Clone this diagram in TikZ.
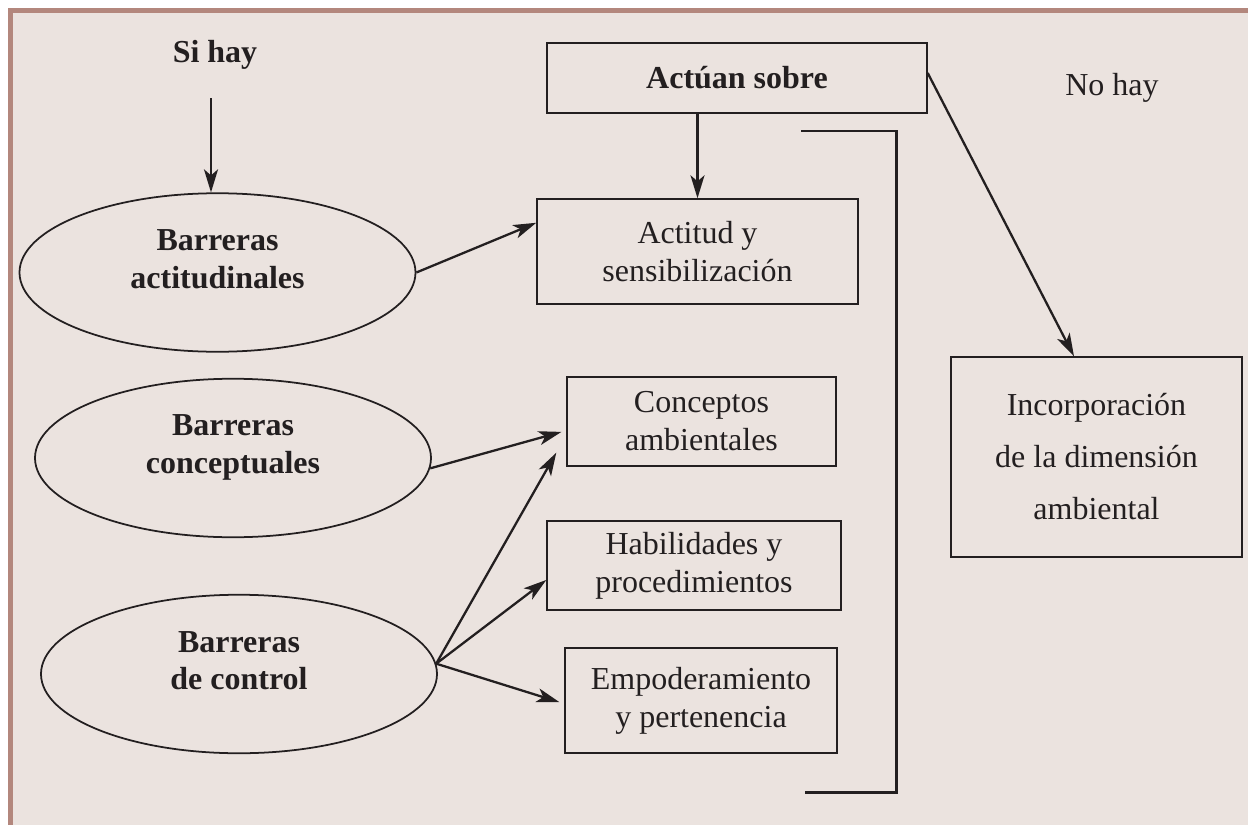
\documentclass[tikz,border=0pt]{standalone}
\usepackage{fontspec}
\setmainfont{Liberation Serif}
\usetikzlibrary{arrows.meta,calc,shapes.geometric}
\definecolor{fondo}{HTML}{EBE3DF}
\definecolor{marco}{HTML}{B3877D}
\definecolor{tinta}{HTML}{231F20}
\tikzset{
	texto/.style={text=tinta, font=\fontsize{18.2}{22}\selectfont},
	caja/.style={draw=tinta, line width=0.8pt, rectangle, inner sep=0pt, align=center, text=tinta, font=\fontsize{18.2}{21.6}\selectfont},
	barrera/.style={draw=tinta, line width=1pt, ellipse, inner sep=0pt, minimum width=7.92cm, minimum height=3.17cm, text depth=0.54cm, align=center, text=tinta, font=\bfseries\fontsize{18.2}{21.6}\selectfont},
	flecha/.style={draw=tinta, line width=1.3pt, -{Stealth[length=0.46cm,width=0.28cm,inset=0.12cm]}},
}

\begin{document}
\begin{tikzpicture}[x=0.2mm,y=-0.2mm]
			%%%%% START %%%%%
			
			\fill[white] (0, 0) rectangle (1248, 825);
			\fill[fondo] (8, 8) rectangle (1248, 825);
			\fill[marco] (8, 8) rectangle (1248, 13);
			\fill[marco] (8, 8) rectangle (13, 825);
			
			\node[texto, font=\bfseries\fontsize{18.2}{22}\selectfont] (sihay) at (215, 55) {Si hay};
			\node[texto] (nohay) at (1112, 88) {No hay};
			
			\node[caja, minimum width=7.6cm, minimum height=1.4cm, font=\bfseries\fontsize{18.2}{22}\selectfont] (actuan) at (737, 78) {Actúan sobre};
			\node[caja, minimum width=5.82cm, minimum height=4cm, font=\fontsize{18.2}{29.6}\selectfont] (incorp) at (1096.5, 457) {Incorporación\\de la dimensión\\ambiental};
			
			\node[caja, minimum width=6.42cm, minimum height=2.1cm] (actitud) at (697.5, 251.5) {Actitud y\\sensibilización};
			\node[caja, minimum width=5.38cm, minimum height=1.78cm] (conceptos) at (701.5, 421.5) {Conceptos\\ambientales};
			\node[caja, minimum width=5.88cm, minimum height=1.78cm] (habilidades) at (694, 565.5) {Habilidades y\\procedimientos};
			\node[caja, minimum width=5.44cm, minimum height=2.1cm] (empoder) at (701, 700.5) {Empoderamiento\\y pertenencia};
			
			\node[barrera] (ell1) at (217.5, 272.5) {Barreras\\actitudinales};
			\node[barrera] (ell2) at (233, 458) {Barreras\\conceptuales};
			\node[barrera] (ell3) at (239, 674) {Barreras\\de control};
			
			\draw[tinta, line width=1.7pt] (801, 131) -- (896, 131) -- (896, 792) -- (805, 792);
			
			\draw[flecha, shorten <=0.45cm] (sihay.south -| 211, 0) -- (211, 0 |- ell1.north);
			\draw[flecha] (actuan.south -| actitud.north) -- (actitud.north);
			\draw[flecha] ([yshift=0.1cm]actuan.east) -- ([xshift=-0.45cm]incorp.north);
			
			\draw[flecha] (ell1.east) -- ($(actitud.north west)!0.23!(actitud.south west)$);
			\draw[flecha, shorten >=0.1cm] (ell2.-3) -- ($(conceptos.north west)!0.6!(conceptos.south west)$);
			
			\coordinate (nudo) at (ell3.3);
			\draw[flecha] (nudo) -- ([shift={(-0.2cm,0.28cm)}]conceptos.south west);
			\draw[flecha] (nudo) -- ($(habilidades.north west)!0.66!(habilidades.south west)$);
			\draw[flecha, shorten >=0.1cm] (nudo) -- ($(empoder.north west)!0.53!(empoder.south west)$);
			
			%%%%% END %%%%%
\end{tikzpicture}
\end{document}
